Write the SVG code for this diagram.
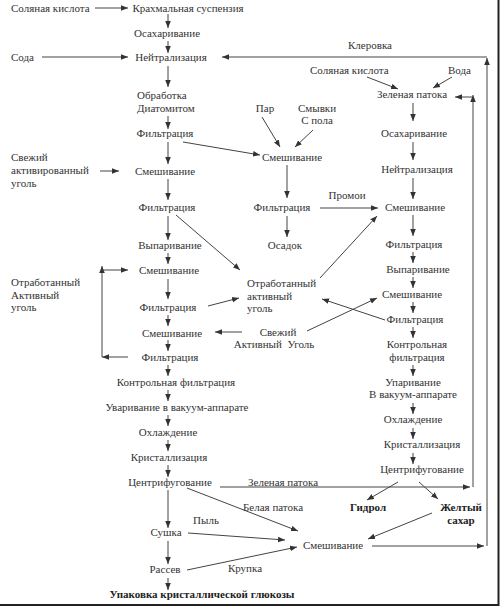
<svg xmlns="http://www.w3.org/2000/svg" width="500" height="610" viewBox="0 0 500 610">
<defs>
<marker id="a" viewBox="0 0 10 10" refX="10" refY="5" markerWidth="7" markerHeight="7" markerUnits="userSpaceOnUse" orient="auto"><path d="M0,1 L10,5 L0,9 z" fill="#333"/></marker>
<style>
text{font-family:"Liberation Serif","Times New Roman",serif;font-size:11px;fill:#333}
.c{text-anchor:middle}
.b{font-weight:bold;fill:#222}
#conn path{fill:none;stroke:#444;stroke-width:1;marker-end:url(#a)}
#conn path.n{marker-end:none}
.frame{stroke:#222;stroke-width:2;fill:none}
</style>
</defs>
<rect width="500" height="610" fill="#fff"/>
<path class="frame" d="M0,605 H498.5 V0"/>
<g id="nodes">
<g id="n_hcl1"><text x="11" y="12">Соляная кислота</text></g>
<g id="n_starch"><text class="c" x="188" y="12">Крахмальная суспензия</text></g>
<g id="n_osah1"><text class="c" x="167" y="37">Осахаривание</text></g>
<g id="n_soda"><text x="11" y="61">Сода</text></g>
<g id="n_neut1"><text class="c" x="171" y="61">Нейтрализация</text></g>
<g id="n_diat"><text x="137" y="99">Обработка</text><text x="137" y="112">Диатомитом</text></g>
<g id="n_filt1"><text class="c" x="165" y="137">Фильтрация</text></g>
<g id="n_freshcarb"><text x="11" y="161">Свежий</text><text x="11" y="174">активированный</text><text x="11" y="187">уголь</text></g>
<g id="n_mix1"><text class="c" x="165" y="175">Смешивание</text></g>
<g id="n_filt2"><text class="c" x="167" y="211">Фильтрация</text></g>
<g id="n_evap1"><text class="c" x="170" y="249">Выпаривание</text></g>
<g id="n_mix2"><text class="c" x="169" y="274">Смешивание</text></g>
<g id="n_spentL"><text x="11" y="286">Отработанный</text><text x="11" y="299">Активный</text><text x="11" y="311">уголь</text></g>
<g id="n_filt3"><text class="c" x="168" y="311">Фильтрация</text></g>
<g id="n_mix3"><text class="c" x="172" y="337">Смешивание</text></g>
<g id="n_filt4"><text class="c" x="170" y="361">Фильтрация</text></g>
<g id="n_ctrl1"><text class="c" x="176" y="386">Контрольная фильтрация</text></g>
<g id="n_vac1"><text class="c" x="177" y="411">Уваривание в вакуум-аппарате</text></g>
<g id="n_cool1"><text class="c" x="168" y="436">Охлаждение</text></g>
<g id="n_cryst1"><text class="c" x="169" y="461">Кристаллизация</text></g>
<g id="n_cent1"><text class="c" x="170" y="486">Центрифугование</text></g>
<g id="n_dry"><text class="c" x="166" y="536">Сушка</text></g>
<g id="n_sieve"><text class="c" x="165" y="573">Рассев</text></g>
<g id="n_pack"><text class="c b" x="202" y="598">Упаковка кристаллической глюкозы</text></g>
<g id="l_dust"><text class="c" x="206" y="524">Пыль</text></g>
<g id="l_grit"><text class="c" x="245" y="572">Крупка</text></g>
<g id="l_white"><text x="243" y="511">Белая патока</text></g>
<g id="l_green"><text x="248" y="486">Зеленая патока</text></g>
<g id="l_kler"><text x="348" y="49">Клеровка</text></g>
<g id="n_hcl2"><text x="310" y="74">Соляная кислота</text></g>
<g id="n_water"><text x="448" y="74">Вода</text></g>
<g id="n_green"><text class="c" x="412" y="98">Зеленая патока</text></g>
<g id="n_steam"><text class="c" x="265" y="112">Пар</text></g>
<g id="n_wash"><text class="c" x="317" y="112">Смывки</text><text class="c" x="317" y="124">С пола</text></g>
<g id="n_mixM"><text class="c" x="292" y="161">Смешивание</text></g>
<g id="n_osah2"><text class="c" x="414" y="137">Осахаривание</text></g>
<g id="n_neut2"><text class="c" x="417" y="173">Нейтрализация</text></g>
<g id="n_filtM"><text class="c" x="282" y="211">Фильтрация</text></g>
<g id="l_promoi"><text class="c" x="347" y="199">Промои</text></g>
<g id="n_mixR1"><text class="c" x="415" y="211">Смешивание</text></g>
<g id="n_sediment"><text class="c" x="285" y="249">Осадок</text></g>
<g id="n_filtR1"><text class="c" x="414" y="248">Фильтрация</text></g>
<g id="n_evapR"><text class="c" x="418" y="273">Выпаривание</text></g>
<g id="n_spentM"><text x="247" y="287">Отработанный</text><text x="247" y="300">активный</text><text x="247" y="312">уголь</text></g>
<g id="n_mixR2"><text class="c" x="412" y="298">Смешивание</text></g>
<g id="n_filtR2"><text class="c" x="415" y="323">Фильтрация</text></g>
<g id="n_freshM"><text class="c" x="278" y="336">Свежий</text><text class="c" x="274" y="348" xml:space="preserve">Активный  Уголь</text></g>
<g id="n_ctrl2"><text class="c" x="417" y="348">Контрольная</text><text class="c" x="417" y="361">фильтрация</text></g>
<g id="n_vac2"><text class="c" x="413" y="386">Упаривание</text><text class="c" x="413" y="398">В вакуум-аппарате</text></g>
<g id="n_cool2"><text class="c" x="413" y="423">Охлаждение</text></g>
<g id="n_cryst2"><text class="c" x="422" y="448">Кристаллизация</text></g>
<g id="n_cent2"><text class="c" x="422" y="473">Центрифугование</text></g>
<g id="n_hydrol"><text class="c b" x="368" y="511">Гидрол</text></g>
<g id="n_yellow"><text class="c b" x="461" y="511">Желтый</text><text class="c b" x="461" y="524">сахар</text></g>
<g id="n_mixB"><text class="c" x="333" y="549">Смешивание</text></g>
</g>
<g id="conn">
<path d="M95,8 H128"/>
<path d="M168,14 V28"/>
<path d="M168,41 V53"/>
<path d="M42,57 H128"/>
<path d="M487,57 H222"/>
<path d="M168,66 V87"/>
<path d="M168,116 V129"/>
<path d="M183,142 L260,155"/>
<path d="M168,142 V164"/>
<path d="M100,171 H119"/>
<path d="M168,179 V200"/>
<path d="M176,215 L240,270"/>
<path d="M168,216 V240"/>
<path d="M168,253 V264"/>
<path d="M102,357 V266"/>
<path d="M102,270 H128"/>
<path d="M128,357 H102"/>
<path d="M168,279 V299"/>
<path d="M208,306 L239,298"/>
<path d="M168,315 V326"/>
<path d="M242,332 H215"/>
<path d="M168,340 V351"/>
<path d="M168,365 V376"/>
<path d="M168,390 V401"/>
<path d="M168,415 V426"/>
<path d="M168,440 V451"/>
<path d="M168,465 V477"/>
<path d="M168,490 V528"/>
<path d="M168,541 V564"/>
<path d="M168,578 V590"/>
<path d="M220,487 H470"/>
<path d="M473,487 V95"/>
<path d="M472,97 H455"/>
<path d="M187,488 L298,531"/>
<path d="M188,533 L285,540"/>
<path d="M187,570 L297,547"/>
<path d="M372,546 H484"/>
<path d="M487,546 V58"/>
<path d="M367,77 L398,89"/>
<path d="M452,77 L433,88"/>
<path d="M262,117 L280,147"/>
<path d="M313,130 L295,147"/>
<path d="M413,103 V121"/>
<path d="M287,165 V198"/>
<path d="M413,142 V160"/>
<path d="M320,208 H378"/>
<path d="M287,216 V237"/>
<path d="M413,178 V199"/>
<path d="M413,215 V236"/>
<path d="M413,252 V263"/>
<path d="M320,278 L377,216"/>
<path d="M413,277 V288"/>
<path d="M385,320 L322,299"/>
<path d="M307,331 L377,298"/>
<path d="M413,302 V313"/>
<path d="M413,327 V338"/>
<path d="M413,365 V376"/>
<path d="M413,403 V414"/>
<path d="M413,428 V439"/>
<path d="M413,453 V464"/>
<path d="M398,482 L367,500"/>
<path d="M419,482 L438,499"/>
<path d="M432,513 L368,539"/>
</g>
</svg>
